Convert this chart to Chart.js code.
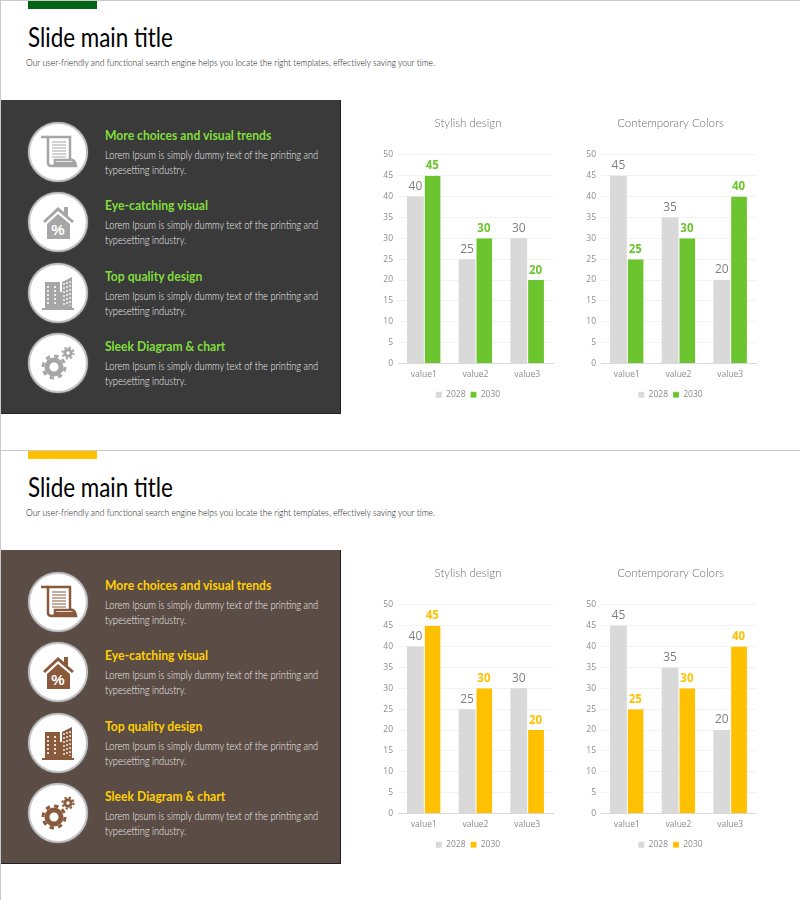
<!DOCTYPE html>
<html>
<head>
<meta charset="utf-8">
<script src="https://cdn.jsdelivr.net/npm/chart.js@4"></script>
<style>
  html, body { margin: 0; padding: 0; background: #fff; }
  #page { position: relative; width: 800px; height: 900px; overflow: hidden; font-family: Lato, sans-serif; }
  .slide { position: absolute; left: 0; width: 799px; height: 449px; border: 1px solid #c9c9c9; border-bottom: 0; }
  .slide div, .slide svg, .slide canvas { position: absolute; }
  .accent { left: 27px; top: 0; width: 69px; height: 8px; }
  .title { left: 27px; top: 19px; font-size: 27px; color: #000; white-space: nowrap; transform: scaleX(.83); transform-origin: left; }
  .sub { left: 25px; top: 55px; font-size: 10px; font-weight: 300; color: #111; white-space: nowrap; transform: scaleX(.85); transform-origin: left; }
  .panel { left: 0; top: 99px; width: 339px; height: 313px; border-right: 1px solid #222; border-bottom: 1px solid #222; }
  .ring { left: 27px; width: 56px; height: 56px; border-radius: 50%; background: #fff; border: 2px solid #c4c4c4; box-shadow: 0 0 2px #777; }
  .head { left: 104px; font-size: 13.5px; font-weight: 700; white-space: nowrap; transform: scaleX(.9); transform-origin: left; }
  .body { left: 104px; width: 266px; font-size: 11px; font-weight: 300; line-height: 14.5px; color: #f0f0f0; transform: scaleX(.84); transform-origin: left; }
</style>
</head>
<body>
<div id="page"></div>
<script>
const categories = ['value1', 'value2', 'value3'];
const years = ['2028', '2030'];
const stylish2028 = [40, 25, 30];
const stylish2030 = [45, 30, 20];
const contemporary2028 = [45, 35, 20];
const contemporary2030 = [25, 30, 40];
const yTicks = [0, 5, 10, 15, 20, 25, 30, 35, 40, 45, 50];

const mainTitle = 'Slide main title';
const subTitle = 'Our user-friendly and functional search engine helps you locate the right templates, effectively saving your time.';
const headings = ['More choices and visual trends', 'Eye-catching visual', 'Top quality design', 'Sleek Diagram & chart'];
const bodyText = 'Lorem Ipsum is simply dummy text of the printing and typesetting industry.';

const themes = [
    { top: 0, accent: '#006414', panel: '#3a3a3a', head: '#80de3c', bar: '#6cc52e', label: '#6cc52e', icon: '#a6a6a6' },
    { top: 450, accent: '#ffc000', panel: '#5b4d45', head: '#ffd000', bar: '#ffc000', label: '#ffc000', icon: '#8a5a3c' }
];

// small inline icons, drawn around the centre of each ring
function iconSvg(index, color) {
    const shapes = [
        `<path d="M-12 -15H12V9" fill="none" stroke="${color}" stroke-width="2.5"/>
         <path d="M-17 -15H-10V11Q-10 14 -6 14H18Q17 7 12 8H-3V12" fill="none" stroke="${color}" stroke-width="2.5"/>
         <path d="M-3 10H17L18 14H-6Z" fill="${color}"/>
         <path d="M-6 -10H8M-6 -7H8M-6 -4H8M-6 -1H8M-6 2H8M-6 5H8" stroke="${color}" stroke-width="1.2"/>`,
        `<path d="M-15 -1L0 -15L6 -10V-15H10V-6L16 -1L14 1L0 -11L-13 1Z" fill="${color}"/>
         <path d="M-11 2L0 -8L12 2V17H-11Z" fill="${color}"/>
         <text x="0" y="13" text-anchor="middle" font-family="Liberation Sans" font-weight="700" font-size="15" fill="#fff">%</text>`,
        `<path d="M-13 -11H2V15H-13Z" fill="${color}"/>
         <path d="M4 -11L14 -16V15H-2V-1H4Z" fill="${color}"/>
         <path d="M-16 15H16V17H-16Z" fill="${color}"/>
         <path d="M-10 -7V11M-3 -7V11" stroke="#fff" stroke-width="1.6" stroke-dasharray="2 2"/>
         <path d="M6 -10V13M9 -11V13M12 -12V13" stroke="#fff" stroke-width="1.3" stroke-dasharray="2 2"/>`,
        `<circle cx="-4" cy="15" r="7" fill="none" stroke="${color}" stroke-width="5"/>
         <circle cx="-4" cy="15" r="11" fill="none" stroke="${color}" stroke-width="3" stroke-dasharray="4.4 4.2"/>
         <circle cx="10" cy="1" r="3.2" fill="none" stroke="${color}" stroke-width="3"/>
         <circle cx="10" cy="1" r="5.6" fill="none" stroke="${color}" stroke-width="2" stroke-dasharray="2.2 2.2"/>`
    ];
    const shift = index === 3 ? 'translate(0,-11)' : '';
    return `<svg width="56" height="56" viewBox="-28 -28 56 56" style="left:0;top:0"><g transform="${shift}">${shapes[index]}</g></svg>`;
}

// prints the value above each bar
const barValues = {
    id: 'barValues',
    afterDatasetsDraw(chart, args, opts) {
        const ctx = chart.ctx;
        chart.data.datasets.forEach((ds, i) => {
            chart.getDatasetMeta(i).data.forEach((bar, j) => {
                ctx.save();
                ctx.textAlign = 'center';
                ctx.textBaseline = 'bottom';
                ctx.fillStyle = i === 0 ? '#7f7f7f' : opts.color;
                ctx.font = i === 0 ? '12px "Open Sans"' : 'bold 11.5px "Open Sans"';
                ctx.fillText(ds.data[j], bar.x, bar.y - 4);
                ctx.restore();
            });
        });
    }
};

function makeChart(parent, left, padLeft, axisWidth, titleText, first, second, theme) {
    const canvas = document.createElement('canvas');
    canvas.width = 195;
    canvas.height = 309;
    canvas.style.cssText = `left:${left}px;top:104px;width:195px;height:309px`;
    parent.appendChild(canvas);

    new Chart(canvas.getContext('2d'), {
        type: 'bar',
        plugins: [barValues],
        data: {
            labels: categories,
            datasets: [
                { label: years[0], data: first, backgroundColor: '#d9d9d9', barPercentage: 1, categoryPercentage: 0.65 },
                { label: years[1], data: second, backgroundColor: theme.bar, borderColor: '#fff', borderWidth: { left: 1 }, barPercentage: 1, categoryPercentage: 0.65 }
            ]
        },
        options: {
            responsive: false,
            animation: false,
            layout: { padding: { left: padLeft, right: 12, bottom: 5 } },
            scales: {
                x: {
                    grid: { display: false },
                    border: { color: '#d9d9d9' },
                    ticks: { color: '#8c8c8c', font: { size: 8.5, family: 'Open Sans' }, padding: -2 },
                    afterFit(scale) { scale.height = 22; }
                },
                y: {
                    min: 0,
                    max: 50,
                    afterBuildTicks(scale) { scale.ticks = yTicks.map(v => ({ value: v })); },
                    grid: { color: '#f2f2f2', drawTicks: false },
                    border: { display: false },
                    ticks: { color: '#8c8c8c', font: { size: 8.5, family: 'Open Sans' }, padding: 5 },
                    afterFit(scale) { scale.width = axisWidth; }
                }
            },
            plugins: {
                tooltip: { enabled: false },
                barValues: { color: theme.label },
                title: {
                    display: true,
                    text: titleText,
                    color: '#6e6e6e',
                    font: { size: 11.5, family: 'Lato', weight: '300' },
                    padding: { top: 11, bottom: 25 }
                },
                legend: {
                    position: 'bottom',
                    labels: {
                        color: '#8c8c8c',
                        font: { size: 8.5, family: 'Open Sans' },
                        boxWidth: 6,
                        boxHeight: 6,
                        padding: 5
                    }
                }
            }
        }
    });
}

const page = document.getElementById('page');

function addDiv(parent, cls, styles, text) {
    const el = document.createElement('div');
    el.className = cls;
    el.style.cssText = styles;
    if (text) el.textContent = text;
    parent.appendChild(el);
    return el;
}

const ringTops = [22, 92, 163, 233];
const headTops = [27, 97, 168, 238];
const bodyTops = [48, 118, 189, 259];

themes.forEach(theme => {
    const slide = addDiv(page, 'slide', `top:${theme.top}px`);
    addDiv(slide, 'accent', `background:${theme.accent}`);
    addDiv(slide, 'title', '', mainTitle);
    addDiv(slide, 'sub', '', subTitle);
    const panel = addDiv(slide, 'panel', `background:${theme.panel}`);
    headings.forEach((h, i) => {
        const ring = addDiv(panel, 'ring', `top:${ringTops[i]}px`);
        ring.innerHTML = iconSvg(i, theme.icon);
        addDiv(panel, 'head', `top:${headTops[i]}px;color:${theme.head}`, h);
        addDiv(panel, 'body', `top:${bodyTops[i]}px`, bodyText);
    });
    makeChart(slide, 369, 13, 15, 'Stylish design', stylish2028, stylish2030, theme);
    makeChart(slide, 572, 12, 16, 'Contemporary Colors', contemporary2028, contemporary2030, theme);
});
</script>
</body>
</html>
